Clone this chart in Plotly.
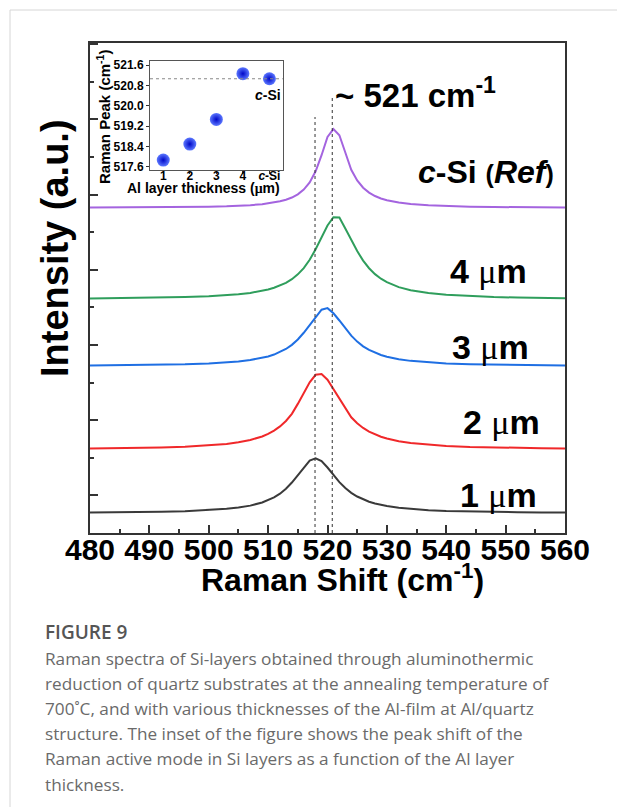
import plotly.graph_objects as go

# ---------------- data ----------------
raman_shift = [480, 484, 488, 492, 496, 500, 503, 505, 507, 509,
               510, 511, 512, 513, 514, 515, 516, 517, 518, 519,
               520, 521, 522, 523, 524, 525, 526, 527, 528, 529,
               530, 532, 534, 537, 540, 544, 548, 552, 556, 560]

int_1um = [272, 274, 277, 282, 290, 304, 321, 338, 364, 406,
           435, 473, 523, 588, 671, 772, 878, 964, 993, 955,
           871, 771, 677, 598, 534, 485, 446, 416, 392, 373,
           358, 335, 319, 304, 294, 285, 279, 276, 273, 271]

int_2um = [1125, 1128, 1132, 1138, 1148, 1165, 1185, 1206, 1237, 1284,
           1317, 1361, 1417, 1490, 1585, 1717, 1861, 2004, 2104, 2115,
           2039, 1913, 1775, 1650, 1539, 1459, 1397, 1348, 1310, 1280,
           1256, 1220, 1196, 1173, 1158, 1145, 1137, 1131, 1127, 1125]

int_3um = [2227, 2229, 2232, 2237, 2243, 2254, 2267, 2281, 2300, 2328,
           2348, 2373, 2405, 2447, 2502, 2573, 2663, 2770, 2879, 2970,
           2990, 2922, 2826, 2720, 2624, 2545, 2482, 2434, 2397, 2367,
           2344, 2311, 2289, 2268, 2255, 2244, 2238, 2233, 2230, 2228]

int_4um = [3119, 3121, 3125, 3130, 3137, 3148, 3162, 3175, 3193, 3220,
           3239, 3261, 3290, 3327, 3375, 3439, 3523, 3633, 3773, 3935,
           4089, 4200, 4195, 4049, 3898, 3749, 3622, 3521, 3442, 3382,
           3335, 3270, 3228, 3190, 3167, 3149, 3138, 3131, 3126, 3122]

int_csi = [4327, 4328, 4329, 4331, 4334, 4339, 4345, 4351, 4360, 4373,
           4383, 4395, 4411, 4432, 4461, 4504, 4567, 4662, 4810, 5024,
           5267, 5371, 5290, 5060, 4830, 4688, 4592, 4527, 4481, 4449,
           4425, 4394, 4374, 4357, 4347, 4339, 4335, 4332, 4330, 4328]

# reference peak positions (dotted vertical lines) and their top ends
peak_line_x = [517.9, 520.8]
peak_line_top = [5532, 5798]

# inset: Raman peak vs Al layer thickness
inset_x = [1, 2, 3, 4, 5]
inset_ticktext = ["1", "2", "3", "4", "<i>c</i>-Si"]
inset_peak = [517.86, 518.49, 519.46, 521.26, 521.06]
inset_ref_peak = 521.06
inset_ytickvals = [517.6, 518.4, 519.2, 520.0, 520.8, 521.6]
inset_yticktext = ["517.6", "518.4", "519.2", "520.0", "520.8", "521.6"]

x_tickvals = [480, 490, 500, 510, 520, 530, 540, 550, 560]
y_major = [500, 1500, 2500, 3500, 4500, 5500, 6500]
y_minor = [1000, 2000, 3000, 4000, 5000, 6000]

MU = "<span style='font-family:Liberation Serif;font-weight:normal'>μ</span>"
curve_labels = ["1 " + MU + "m", "2 " + MU + "m", "3 " + MU + "m", "4 " + MU + "m",
                "<i>c</i>-Si <span style='font-size:25px'>(</span><i>Ref</i><span style='font-size:25px'>)</span>"]

caption_title = "FIGURE 9"
caption_lines = [
    "Raman spectra of Si-layers obtained through aluminothermic",
    "reduction of quartz substrates at the annealing temperature of",
    "700˚C, and with various thicknesses of the Al-film at Al/quartz",
    "structure. The inset of the figure shows the peak shift of the",
    "Raman active mode in Si layers as a function of the Al layer",
    "thickness.",
]

# ---------------- layout helpers ----------------
W, H = 617, 807
L, R, T, B = 90, 565, 43, 533


def px_x(px):
    return (px - L) / (R - L)


def px_y(py):
    return (B - py) / (B - T)


FONT = "Liberation Sans, Arial, sans-serif"

fig = go.Figure()

series = [
    (int_1um, "#3a3a3a"),
    (int_2um, "#f0282a"),
    (int_3um, "#1f6fe3"),
    (int_4um, "#2f9e5c"),
    (int_csi, "#a464df"),
]
for ys, col in series:
    fig.add_trace(go.Scatter(x=raman_shift, y=ys, mode="lines",
                             line=dict(color=col, width=2),
                             showlegend=False, hoverinfo="skip",
                             xaxis="x", yaxis="y"))

for xv, top in zip(peak_line_x, peak_line_top):
    fig.add_trace(go.Scatter(x=[xv, xv], y=[0, top], mode="lines",
                             line=dict(color="#333333", width=1, dash="dot"),
                             showlegend=False, hoverinfo="skip",
                             xaxis="x", yaxis="y"))

# inset points
fig.add_trace(go.Scatter(x=inset_x, y=inset_peak, mode="markers",
                         marker=dict(size=13, color="#5c78ff",
                                     gradient=dict(type="radial", color="#0008c8"),
                                     line=dict(width=0)),
                         showlegend=False, hoverinfo="skip",
                         xaxis="x2", yaxis="y2"))

fig.update_layout(
    width=W, height=H,
    margin=dict(l=L, r=W - R, t=T, b=H - B),
    paper_bgcolor="white", plot_bgcolor="rgba(0,0,0,0)",
    font=dict(family=FONT, color="black"),
    showlegend=False,
    xaxis=dict(range=[480, 560], domain=[0, 1], anchor="y",
               tickvals=x_tickvals, ticks="inside", ticklen=8, tickwidth=1.5,
               tickcolor="#333", showline=True, linecolor="#333", linewidth=2,
               mirror=True, showgrid=False, zeroline=False,
               ticklabelstandoff=-11,
               tickfont=dict(size=30, family=FONT, weight="bold", color="black"),
               minor=dict(dtick=5, tick0=480, ticks="inside", ticklen=4,
                          tickwidth=1.5, tickcolor="#333", showgrid=False)),
    yaxis=dict(range=[0, 6516], domain=[0, 1], anchor="x",
               tickvals=y_major, ticks="inside", ticklen=8, tickwidth=1.5,
               tickcolor="#333", showticklabels=False,
               showline=True, linecolor="#333", linewidth=2, mirror=True,
               showgrid=False, zeroline=False,
               minor=dict(tickvals=y_minor, ticks="inside", ticklen=4,
                          tickwidth=1.5, tickcolor="#333", showgrid=False)),
    xaxis2=dict(range=[0.5, 5.5], domain=[px_x(150), px_x(282.7)], anchor="y2",
                tickvals=inset_x, ticktext=inset_ticktext,
                ticks="outside", ticklen=3, tickwidth=1, tickcolor="#333",
                showline=True, linecolor="#555", linewidth=1, mirror=True,
                showgrid=False, zeroline=False, ticklabelstandoff=-8,
                tickfont=dict(size=12, family=FONT, weight="bold", color="black")),
    yaxis2=dict(range=[517.47, 521.77], domain=[px_y(170), px_y(60.7)], anchor="x2",
                tickvals=inset_ytickvals, ticktext=inset_yticktext,
                ticks="outside", ticklen=3, tickwidth=1, tickcolor="#333",
                showline=True, linecolor="#555", linewidth=1, mirror=True,
                showgrid=False, zeroline=False,
                tickfont=dict(size=12, family=FONT, weight="bold", color="black")),
)

# inset reference line
fig.add_shape(type="line", xref="x2 domain", x0=0, x1=1, yref="y2",
              y0=inset_ref_peak, y1=inset_ref_peak,
              line=dict(color="#888", width=1, dash="dot"))

# page border (card edge)
fig.add_shape(type="line", xref="paper", yref="paper",
              x0=px_x(10), x1=px_x(617), y0=px_y(10), y1=px_y(10),
              line=dict(color="#d6d6d6", width=1))
fig.add_shape(type="line", xref="paper", yref="paper",
              x0=px_x(10), x1=px_x(10), y0=px_y(10), y1=px_y(807),
              line=dict(color="#d6d6d6", width=1))

ann = []


def add_text(text, x, y, size, xanchor="center", yanchor="middle", angle=0,
             color="black", family=FONT, weight="bold"):
    ann.append(dict(text=text, x=x, y=y, xref="paper", yref="paper",
                    xanchor=xanchor, yanchor=yanchor, textangle=angle,
                    showarrow=False,
                    font=dict(size=size, family=family, color=color, weight=weight)))


# main axis titles
add_text("Intensity (a.u.)", px_x(55), px_y(248), 38, angle=-90)
add_text("Raman Shift (cm<sup>-1</sup>)", px_x(342), px_y(578), 32)

# peak label
add_text("~ 521 cm<sup>-1</sup>", px_x(333), px_y(93), 33, xanchor="left")

# curve labels
label_pos = [(498, 495), (501, 422), (490, 347), (488, 271), (486, 172)]
label_size = [34, 34, 34, 34, 32]
for txt, (lx, ly), sz in zip(curve_labels, label_pos, label_size):
    add_text(txt, px_x(lx), px_y(ly), sz)

# inset titles
add_text("Raman Peak (cm<sup>-1</sup>)", px_x(103), px_y(117), 15, angle=-90)
add_text("Al layer thickness (<span style='font-family:Liberation Serif'>μ</span>m)",
         px_x(203), px_y(188), 14)
add_text("<i>c</i>-Si", px_x(268), px_y(95), 14)

# caption
add_text(caption_title, px_x(43), px_y(632), 19, xanchor="left",
         color="#555555", family="Open Sans, sans-serif", weight=600)
for i, line in enumerate(caption_lines):
    add_text(line, px_x(43), px_y(658 + i * 25.2), 17.2, xanchor="left",
             color="#6a6a6a", family="Open Sans, sans-serif", weight="normal")

fig.update_layout(annotations=ann)

fig.write_html("out.html")
